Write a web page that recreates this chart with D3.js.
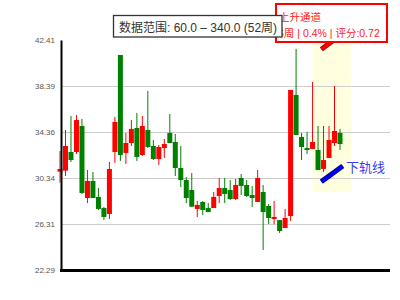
<!DOCTYPE html>
<html>
<head>
<meta charset="utf-8">
<script src="https://cdn.jsdelivr.net/npm/d3@7"></script>
<style>
  body { margin: 0; background: #fff; }
  text { font-family: "Liberation Sans", "Noto Sans CJK SC", sans-serif; }
</style>
</head>
<body>
<div id="chart"></div>
<script>
// weekly candles
var weeks = d3.range(52);
var openVals  = [30.89, 30.98, 32.61, 32.61, 34.89, 28.59, 30.08, 28.68, 27.71, 27.19,
                 32.61, 41.10, 32.53, 33.40, 34.71, 32.35, 34.54, 33.14, 32.00, 32.96,
                 34.28, 33.49, 31.21, 30.16, 29.29, 27.63, 28.24, 27.71, 27.71, 28.76,
                 29.46, 29.29, 28.50, 30.34, 29.73, 28.85, 28.24, 29.11, 27.89, 26.75,
                 26.66, 25.96, 27.01, 37.60, 33.93, 32.96, 32.88, 32.79, 31.13, 32.09,
                 33.40, 34.28];
var closeVals = [31.13, 33.14, 31.91, 35.41, 29.03, 30.08, 28.59, 27.63, 26.93, 31.13,
                 35.24, 32.35, 33.40, 34.63, 32.18, 34.89, 33.05, 32.00, 33.05, 33.31,
                 33.40, 31.21, 30.16, 28.59, 27.83, 27.98, 27.54, 27.36, 28.68, 29.46,
                 28.94, 28.50, 29.73, 29.64, 28.76, 28.59, 30.34, 27.36, 26.84, 26.93,
                 25.70, 26.84, 38.04, 34.10, 33.05, 32.79, 33.49, 31.04, 31.91, 33.66,
                 34.45, 33.31];
var highVals  = [32.70, 34.54, 35.76, 35.85, 35.50, 31.04, 30.86, 29.46, 27.80, 31.74,
                 35.68, 41.10, 34.28, 35.41, 36.03, 35.76, 37.95, 33.66, 33.23, 33.75,
                 35.94, 34.19, 33.14, 30.43, 30.78, 28.33, 28.33, 28.15, 29.11, 30.34,
                 30.34, 30.16, 30.25, 30.69, 30.16, 29.64, 31.04, 29.73, 28.06, 28.33,
                 26.66, 27.63, 38.04, 41.63, 34.28, 34.36, 38.74, 34.89, 34.89, 34.89,
                 38.39, 34.63];
var lowVals   = [29.93, 30.51, 31.74, 32.44, 28.94, 28.15, 28.59, 27.54, 26.66, 26.75,
                 31.65, 31.83, 31.57, 33.14, 31.83, 32.26, 32.96, 31.91, 31.48, 32.09,
                 33.40, 30.51, 29.55, 28.15, 27.83, 26.93, 27.10, 27.36, 27.71, 28.15,
                 28.15, 28.41, 28.41, 28.85, 28.68, 27.80, 28.24, 24.04, 26.31, 26.31,
                 25.53, 25.96, 26.58, 34.10, 31.91, 32.44, 32.88, 31.04, 30.86, 32.09,
                 33.14, 32.79];

var yTicks = [22.29, 26.31, 30.34, 34.36, 38.39, 42.41];

// channel (highlight + rails)
var channelWeeks = [46, 53];
var channelPrice = [29.14, 42.41];
var railWeeks = [47.6, 51.5];
var lowerRail = [30.02, 31.39];
var upperRail = [41.60, 42.97];

var titleText = "数据范围: 60.0 – 340.0 (52周)";
var patternName = "上升通道";
var patternInfo = "6周 | 0.4% | 评分:0.72";
var railLabel = "下轨线";

var width = 400, height = 300;

var svg = d3.select("#chart").append("svg")
            .attr("width", width)
            .attr("height", height);

var xScale = d3.scaleLinear().domain([0, 51]).range([60, 340]);
var yScale = d3.scaleLinear().domain([22.29, 42.41]).range([270, 40]);
var plotRight = 390;

// highlight area
svg.append("rect")
   .attr("x", xScale(channelWeeks[0]))
   .attr("y", yScale(channelPrice[1]))
   .attr("width", xScale(channelWeeks[1]) - xScale(channelWeeks[0]))
   .attr("height", yScale(channelPrice[0]) - yScale(channelPrice[1]))
   .attr("fill", "#ffffe0");

// grid lines
var grid = svg.append("g")
              .attr("transform", "translate(61,0)")
              .call(d3.axisLeft(yScale)
                      .tickValues(yTicks.slice(1, -1))
                      .tickSize(-(plotRight - 61))
                      .tickFormat(""));
grid.select(".domain").remove();
grid.selectAll("line").attr("stroke", "#cccccc").attr("stroke-width", 1);

// candles
var candles = svg.append("g");
weeks.forEach(function(i) {
    var up = closeVals[i] >= openVals[i];
    var color = up ? "#ff0000" : "#008000";
    var x = xScale(i);
    var top = yScale(Math.max(openVals[i], closeVals[i]));
    var bot = yScale(Math.min(openVals[i], closeVals[i]));

    candles.append("line")
           .attr("x1", x).attr("x2", x)
           .attr("y1", yScale(highVals[i]))
           .attr("y2", yScale(lowVals[i]))
           .attr("stroke", color)
           .attr("stroke-width", 1);

    candles.append("rect")
           .attr("x", x - 2.5)
           .attr("y", top)
           .attr("width", 5)
           .attr("height", Math.max(bot - top, 1.2))
           .attr("fill", color);
});

// y axis
var yAxis = svg.append("g")
               .attr("transform", "translate(61,0)")
               .call(d3.axisLeft(yScale)
                       .tickValues(yTicks)
                       .tickSize(0)
                       .tickPadding(6)
                       .tickFormat(d3.format(".2f")));
yAxis.select(".domain").attr("stroke", "#000").attr("stroke-width", 2);
yAxis.selectAll("text")
     .style("font-family", "Liberation Sans, sans-serif")
     .style("font-size", "8px")
     .attr("fill", "#555");

// x axis line
svg.append("line")
   .attr("x1", 60).attr("x2", plotRight)
   .attr("y1", yScale(yTicks[0]) + 0.5).attr("y2", yScale(yTicks[0]) + 0.5)
   .attr("stroke", "#000")
   .attr("stroke-width", 3);

// rails
function drawRail(vals, dark, light) {
    [[dark, 5], [light, 3]].forEach(function(s) {
        svg.append("line")
           .attr("x1", xScale(railWeeks[0])).attr("y1", yScale(vals[0]))
           .attr("x2", xScale(railWeeks[1])).attr("y2", yScale(vals[1]))
           .attr("stroke", s[0])
           .attr("stroke-width", s[1]);
    });
}
drawRail(lowerRail, "#00008b", "#0000ff");
drawRail(upperRail, "#a00000", "#ff0000");

svg.append("text")
   .attr("x", 346)
   .attr("y", 172)
   .style("font-size", "13px")
   .attr("fill", "#3b3bf5")
   .text(railLabel);

// pattern box
svg.append("rect")
   .attr("x", 276).attr("y", 4)
   .attr("width", 111).attr("height", 38)
   .attr("fill", "#fff")
   .attr("stroke", "#ff0000")
   .attr("stroke-width", 2);
svg.append("text")
   .attr("x", 279).attr("y", 21)
   .style("font-size", "10.5px")
   .attr("fill", "#ff2020")
   .text(patternName);
svg.append("text")
   .attr("x", 278).attr("y", 36.5)
   .style("font-size", "10.5px")
   .attr("fill", "#ff2020")
   .text(patternInfo);

// title box
svg.append("rect")
   .attr("x", 113.5).attr("y", 15.5)
   .attr("width", 168.5).attr("height", 21.5)
   .attr("fill", "#fff")
   .attr("stroke", "#333")
   .attr("stroke-width", 1.3);
svg.append("text")
   .attr("x", 119)
   .attr("y", 32)
   .style("font-size", "12px")
   .attr("fill", "#333")
   .text(titleText);
</script>
</body>
</html>
